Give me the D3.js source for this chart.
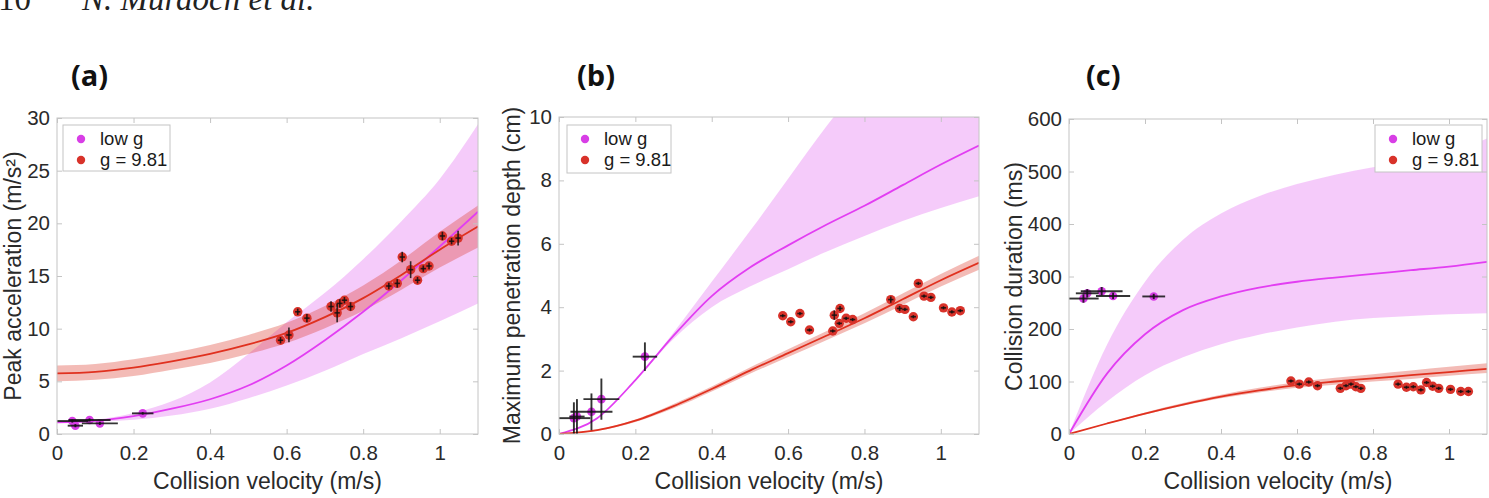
<!DOCTYPE html>
<html><head><meta charset="utf-8">
<script src="https://cdn.jsdelivr.net/npm/d3@7"></script>
<style>body{margin:0;background:#fff;} svg{display:block;}</style>
</head><body>
<svg id="chart" width="1489" height="498"></svg>
<script>
// ---------- shared ----------
const xSamples = [0, 0.1, 0.2, 0.3, 0.4, 0.5, 0.6, 0.7, 0.8, 0.9, 1.0, 1.1];
const xTicks = [0, 0.2, 0.4, 0.6, 0.8, 1];
const legendLabels = ["low g", "g = 9.81"];
const panelTitles = ["(a)", "(b)", "(c)"];
const xLabel = "Collision velocity (m/s)";
const yLabels = ["Peak acceleration (m/s²)", "Maximum penetration depth (cm)", "Collision duration (ms)"];

// ---------- panel (a) ----------
const aYTicks = [0, 5, 10, 15, 20, 25, 30];
const aLowFit = [1.1, 1.25, 1.7, 2.4, 3.3, 4.6, 6.5, 8.9, 11.6, 14.6, 17.8, 21.1];
const aLowUpper = [1.1, 1.35, 2.0, 3.1, 4.9, 7.6, 10.6, 13.4, 16.6, 20.2, 24.2, 29.4];
const aLowLower = [1.1, 1.15, 1.35, 1.75, 2.4, 3.4, 4.6, 6.0, 7.6, 9.1, 10.7, 12.4];
const aHighFit = [5.75, 5.9, 6.3, 6.9, 7.6, 8.5, 9.6, 11.1, 12.9, 15.1, 17.5, 19.7];
const aHighUpper = [6.5, 6.65, 7.1, 7.7, 8.45, 9.4, 10.55, 12.15, 14.1, 16.5, 19.2, 21.7];
const aHighLower = [5.0, 5.15, 5.5, 6.1, 6.75, 7.6, 8.65, 10.05, 11.7, 13.7, 15.8, 17.7];
const aLowX = [0.040, 0.048, 0.085, 0.112, 0.224];
const aLowXErr = [0.042, 0.02, 0.055, 0.047, 0.028];
const aLowY = [1.23, 0.79, 1.33, 1.01, 1.96];
const aLowYErr = [0.15, 0.15, 0.15, 0.15, 0.12];
const aHighX = [0.584, 0.606, 0.629, 0.653, 0.716, 0.732, 0.739, 0.751, 0.767, 0.867, 0.889, 0.902, 0.924, 0.942, 0.957, 0.972, 1.007, 1.031, 1.048];
const aHighY = [8.9, 9.4, 11.6, 11.0, 12.1, 11.5, 12.4, 12.7, 12.1, 14.05, 14.3, 16.8, 15.6, 14.6, 15.7, 15.95, 18.8, 18.3, 18.6];
const aHighYErr = [0.3, 0.7, 0.3, 0.4, 0.5, 0.9, 0.4, 0.3, 0.4, 0.3, 0.4, 0.5, 0.8, 0.3, 0.3, 0.3, 0.4, 0.3, 0.7];

// ---------- panel (b) ----------
const bYTicks = [0, 2, 4, 6, 8, 10];
const bLowFit = [0, 0.5, 1.7, 3.1, 4.35, 5.25, 5.95, 6.6, 7.2, 7.85, 8.5, 9.1];
const bLowUpper = [0, 0.5, 1.7, 3.2, 4.8, 6.4, 8.05, 9.7, 11.2, 12.6, 14.0, 15.3];
const bLowLower = [0, 0.5, 1.7, 3.0, 4.0, 4.65, 5.2, 5.75, 6.25, 6.72, 7.13, 7.5];
const bHighFit = [0, 0.12, 0.42, 0.88, 1.42, 2.0, 2.55, 3.1, 3.65, 4.25, 4.85, 5.4];
const bHighUpper = [0, 0.14, 0.46, 0.95, 1.5, 2.1, 2.67, 3.24, 3.81, 4.43, 5.05, 5.62];
const bHighLower = [0, 0.1, 0.38, 0.81, 1.34, 1.9, 2.43, 2.96, 3.49, 4.07, 4.65, 5.18];
const bLowX = [0.039, 0.047, 0.085, 0.111, 0.225];
const bLowXErr = [0.043, 0.02, 0.055, 0.047, 0.032];
const bLowY = [0.50, 0.55, 0.70, 1.10, 2.44];
const bLowYErr = [0.5, 0.55, 0.58, 0.65, 0.45];
const bHighX = [0.586, 0.607, 0.631, 0.656, 0.717, 0.721, 0.734, 0.736, 0.752, 0.769, 0.869, 0.892, 0.906, 0.928, 0.941, 0.956, 0.974, 1.007, 1.029, 1.051];
const bHighY = [3.73, 3.54, 3.80, 3.28, 3.25, 3.75, 3.49, 3.96, 3.65, 3.61, 4.24, 3.96, 3.93, 3.70, 4.75, 4.35, 4.31, 3.98, 3.85, 3.89];
const bHighYErr = [0.05, 0.05, 0.05, 0.05, 0.05, 0.15, 0.05, 0.08, 0.05, 0.05, 0.1, 0.08, 0.05, 0.05, 0.05, 0.05, 0.05, 0.05, 0.05, 0.05];

// ---------- panel (c) ----------
const cYTicks = [0, 100, 200, 300, 400, 500, 600];
const cLowFit = [0, 115, 190, 236, 262, 279, 290, 298, 305, 312, 319, 328];
const cLowUpper = [0, 170, 290, 370, 420, 453, 476, 494, 508, 519, 535, 563];
const cLowLower = [0, 62, 112, 146, 171, 189, 203, 214, 221, 225, 228, 230];
const cHighFit = [0, 20, 39, 56, 71, 83, 93, 100, 106, 112, 118, 124];
const cHighUpper = [0, 21, 41, 59, 75, 88, 99, 107, 114, 121, 128, 135];
const cHighLower = [0, 19, 37, 54, 68, 79, 88, 94, 100, 105, 111, 116];
const cLowX = [0.038, 0.048, 0.086, 0.116, 0.223];
const cLowXErr = [0.04, 0.03, 0.055, 0.045, 0.03];
const cLowY = [258, 268, 272, 263, 262];
const cLowYErr = [8, 8, 8, 6, 5];
const cHighX = [0.584, 0.606, 0.631, 0.654, 0.714, 0.729, 0.742, 0.755, 0.768, 0.866, 0.888, 0.906, 0.926, 0.941, 0.957, 0.973, 1.004, 1.031, 1.051];
const cHighY = [101, 95, 99, 92, 87, 92, 95, 90, 87, 95, 89, 90, 84, 98, 91, 87, 85, 81, 81];
const cHighYErr = [3, 3, 3, 3, 3, 3, 3, 3, 3, 3, 3, 3, 3, 3, 3, 3, 3, 3, 3];

// ---------- styles / layout ----------
const C = {
  lowLine: "#e23ef2", lowBand: "rgb(226,110,240)", lowDot: "#d83ee6",
  highLine: "#e0311f", highBand: "rgb(222,60,45)", highDot: "#d8322a",
  frame: "#c4c4c4", text: "#2a2a2a"
};
const FONT = "'Liberation Sans', Arial, Helvetica, sans-serif";

const panels = [
  { box: [57, 118, 478, 434], ymax: 30, yTicks: aYTicks, lowFit: aLowFit, lowUp: aLowUpper, lowLo: aLowLower,
    highFit: aHighFit, highUp: aHighUpper, highLo: aHighLower,
    lowX: aLowX, lowXErr: aLowXErr, lowY: aLowY, lowYErr: aLowYErr,
    highX: aHighX, highY: aHighY, highYErr: aHighYErr,
    legend: [63, 125, 107, 46], titleX: 71, yLabelX: 21 },
  { box: [559, 117, 979, 434], ymax: 10, yTicks: bYTicks, lowFit: bLowFit, lowUp: bLowUpper, lowLo: bLowLower,
    highFit: bHighFit, highUp: bHighUpper, highLo: bHighLower,
    lowX: bLowX, lowXErr: bLowXErr, lowY: bLowY, lowYErr: bLowYErr,
    highX: bHighX, highY: bHighY, highYErr: bHighYErr,
    legend: [567, 125, 104, 48], titleX: 577, yLabelX: 520 },
  { box: [1069, 119, 1487, 434], ymax: 600, yTicks: cYTicks, lowFit: cLowFit, lowUp: cLowUpper, lowLo: cLowLower,
    highFit: cHighFit, highUp: cHighUpper, highLo: cHighLower,
    lowX: cLowX, lowXErr: cLowXErr, lowY: cLowY, lowYErr: cLowYErr,
    highX: cHighX, highY: cHighY, highYErr: cHighYErr,
    legend: [1375, 125, 107, 47], titleX: 1086, yLabelX: 1022 }
];

const svg = d3.select("#chart");

// page header (cropped running head)
svg.append("text").attr("x", -2).attr("y", 10).attr("font-family", "'Liberation Serif', 'Times New Roman', serif")
  .attr("font-size", 33).attr("fill", "#222").text("10");
svg.append("text").attr("x", 82).attr("y", 10).attr("font-family", "'Liberation Serif', 'Times New Roman', serif")
  .attr("font-style", "italic").attr("font-size", 33).attr("fill", "#222").text("N. Murdoch et al.");

panels.forEach((p, i) => {
  const [L, T, R, B] = p.box;
  const x = d3.scaleLinear().domain([0, 1.1]).range([L, R]);
  const y = d3.scaleLinear().domain([0, p.ymax]).range([B, T]);
  const g = svg.append("g");

  const clipId = "clip" + i;
  svg.append("clipPath").attr("id", clipId).append("rect")
    .attr("x", L).attr("y", T).attr("width", R - L).attr("height", B - T);
  const plot = g.append("g").attr("clip-path", `url(#${clipId})`);

  const area = (up, lo) => d3.area().x((d, k) => x(xSamples[k])).y0((d, k) => y(lo[k])).y1((d, k) => y(up[k]))
    .curve(d3.curveMonotoneX)(xSamples);
  const line = (vals) => d3.line().x((d, k) => x(xSamples[k])).y((d, k) => y(vals[k])).curve(d3.curveMonotoneX)(xSamples);

  plot.append("path").attr("d", area(p.lowUp, p.lowLo)).attr("fill", C.lowBand).attr("fill-opacity", 0.36);
  plot.append("path").attr("d", area(p.highUp, p.highLo)).attr("fill", C.highBand).attr("fill-opacity", 0.35);
  plot.append("path").attr("d", line(p.lowFit)).attr("fill", "none").attr("stroke", C.lowLine).attr("stroke-width", 1.8);
  plot.append("path").attr("d", line(p.highFit)).attr("fill", "none").attr("stroke", C.highLine).attr("stroke-width", 1.8);

  // low-g points with error bars
  p.lowX.forEach((vx, k) => {
    plot.append("circle").attr("cx", x(vx)).attr("cy", y(p.lowY[k])).attr("r", 4.3).attr("fill", C.lowDot);
  });
  p.lowX.forEach((vx, k) => {
    const eb = plot.append("g").attr("stroke", "#111").attr("stroke-width", 1.9).attr("stroke-opacity", 0.85);
    eb.append("line").attr("x1", x(Math.max(0, vx - p.lowXErr[k]))).attr("x2", x(vx + p.lowXErr[k]))
      .attr("y1", y(p.lowY[k])).attr("y2", y(p.lowY[k]));
    eb.append("line").attr("x1", x(vx)).attr("x2", x(vx))
      .attr("y1", y(Math.max(0, p.lowY[k] - p.lowYErr[k]))).attr("y2", y(p.lowY[k] + p.lowYErr[k]));
  });
  // g = 9.81 points
  p.highX.forEach((vx, k) => {
    plot.append("circle").attr("cx", x(vx)).attr("cy", y(p.highY[k])).attr("r", 4.7).attr("fill", C.highDot);
  });
  p.highX.forEach((vx, k) => {
    const eb = plot.append("g").attr("stroke", "#111").attr("stroke-width", 1.6).attr("stroke-opacity", 0.85);
    eb.append("line").attr("x1", x(vx - 0.007)).attr("x2", x(vx + 0.007))
      .attr("y1", y(p.highY[k])).attr("y2", y(p.highY[k]));
    eb.append("line").attr("x1", x(vx)).attr("x2", x(vx))
      .attr("y1", y(p.highY[k] - p.highYErr[k])).attr("y2", y(p.highY[k] + p.highYErr[k]));
  });

  // axes (MATLAB style box, inward ticks)
  const styleAxis = sel => {
    sel.select(".domain").remove();
    sel.selectAll(".tick line").attr("stroke", C.frame);
    sel.selectAll("text").attr("font-family", FONT).attr("font-size", 20.5).attr("fill", C.text);
  };
  const fmt = d3.format("~g");
  g.append("g").attr("transform", `translate(0,${B})`)
    .call(d3.axisBottom(x).tickValues(xTicks).tickFormat(fmt).tickSizeInner(-5).tickSizeOuter(0).tickPadding(11)).call(styleAxis);
  g.append("g").attr("transform", `translate(0,${T})`)
    .call(d3.axisTop(x).tickValues(xTicks).tickFormat("").tickSizeInner(-5).tickSizeOuter(0)).call(styleAxis);
  g.append("g").attr("transform", `translate(${L},0)`)
    .call(d3.axisLeft(y).tickValues(p.yTicks).tickFormat(fmt).tickSizeInner(-5).tickSizeOuter(0).tickPadding(7)).call(styleAxis);
  g.append("g").attr("transform", `translate(${R},0)`)
    .call(d3.axisRight(y).tickValues(p.yTicks).tickFormat("").tickSizeInner(-5).tickSizeOuter(0)).call(styleAxis);
  g.append("rect").attr("x", L).attr("y", T).attr("width", R - L).attr("height", B - T)
    .attr("fill", "none").attr("stroke", C.frame).attr("stroke-width", 1);

  // axis labels
  g.append("text").attr("x", (L + R) / 2).attr("y", 489).attr("text-anchor", "middle")
    .attr("font-family", FONT).attr("font-size", 23).attr("fill", C.text).text(xLabel);
  g.append("text").attr("transform", `translate(${p.yLabelX},${(T + B) / 2}) rotate(-90)`).attr("text-anchor", "middle")
    .attr("font-family", FONT).attr("font-size", 23).attr("fill", C.text).text(yLabels[i]);

  // panel title
  g.append("text").attr("x", p.titleX).attr("y", 86).attr("font-family", "'Open Sans', 'Liberation Sans', sans-serif")
    .attr("font-weight", 700).attr("font-size", 29).attr("fill", "#111").text(panelTitles[i]);

  // legend
  const [lx, ly, lw, lh] = p.legend;
  const lg = g.append("g");
  lg.append("rect").attr("x", lx).attr("y", ly).attr("width", lw).attr("height", lh)
    .attr("fill", "#fff").attr("stroke", C.frame).attr("stroke-width", 1);
  [C.lowDot, C.highDot].forEach((col, k) => {
    const cy = ly + 14 + k * 21;
    lg.append("circle").attr("cx", lx + 18).attr("cy", cy).attr("r", 4.2).attr("fill", col);
    lg.append("text").attr("x", lx + 37).attr("y", cy + 6).attr("font-family", FONT).attr("font-size", 18.5)
      .attr("fill", "#1a1a1a").text(legendLabels[k]);
  });
});
</script>
</body></html>
